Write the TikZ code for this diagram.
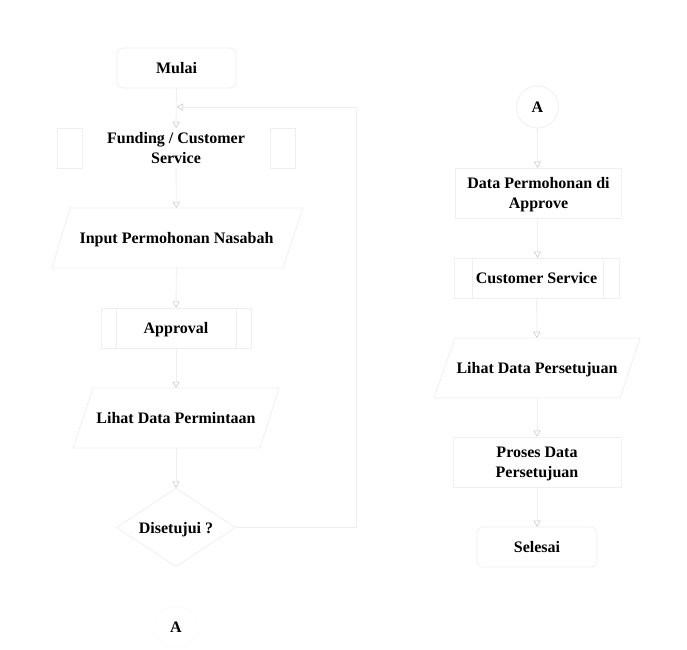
\documentclass[tikz,border=0pt]{standalone}
\usepackage{fontspec}
\setmainfont{Liberation Serif}
\usetikzlibrary{arrows.meta,shapes.geometric}
\definecolor{ln}{HTML}{EFEFEF}
\definecolor{tipc}{HTML}{C4C4C4}
\begin{document}
\begin{tikzpicture}[x=1pt,y=-1pt,
  every node/.style={font=\fontsize{16}{20}\selectfont\bfseries, align=center, inner sep=0pt, text depth=0pt},
  box/.style={draw=ln, line width=0.8pt, rectangle, minimum width=#1, minimum height=40},
  rbox/.style={draw=ln, line width=0.8pt, rectangle, rounded corners=6pt, minimum width=#1, minimum height=40},
  txt/.style={minimum width=#1, minimum height=60},
  shp/.style={draw=ln, line width=0.8pt},
  conn/.style={draw=ln, line width=0.9pt, -{Triangle[open,length=6,width=7,color=tipc,line width=0.5pt]}}]
\useasboundingbox (0,0) rectangle (687,649);
% left column
\node[rbox=119] (mulai) at (176.5,68) {Mulai};
\node[minimum width=213, minimum height=40] (fund) at (176,148) {Funding / Customer\\Service};
\draw[shp] (57,128) rectangle (82,168);
\draw[shp] (270,128) rectangle (295,168);
\node[txt=210] (input) at (176.5,238) {Input Permohonan Nasabah};
\draw[shp] (70,208) -- (303,208) -- (283,268) -- (52,268) -- cycle;
\node[box=150] (appr) at (176,328) {Approval};
\draw[shp] (116,308) -- (116,348) (236,308) -- (236,348);
\node[txt=186] (lihat1) at (176,418) {Lihat Data Permintaan};
\draw[shp] (93,388) -- (279,388) -- (260,448) -- (73,448) -- cycle;
\node[diamond, draw=ln, line width=0.8pt, minimum width=119, minimum height=79, aspect=1.5] (dis) at (176,527.5) {};
\node at (176,527.5) {Disetujui ?};
\node[circle, draw=white!98!black, line width=0.6pt, minimum size=42] (a1) at (176,627) {A};
% right column
\node[circle, draw=ln, line width=0.8pt, minimum size=42] (a2) at (537.5,107) {A};
\node[box=166, minimum height=50] (dpa) at (538.5,193) {Data Permohonan di\\Approve};
\node[box=165] (cs) at (536.5,278) {Customer Service};
\draw[shp] (472,258) -- (472,298) (603,258) -- (603,298);
\node[txt=186] (lihat2) at (537,368) {Lihat Data Persetujuan};
\draw[shp] (455,338) -- (640,338) -- (620,398) -- (434,398) -- cycle;
\node[box=168, minimum height=50] (proses) at (537,462) {Proses Data\\Persetujuan};
\node[rbox=120] (sel) at (537,547) {Selesai};
% connectors
\draw[conn] (mulai) -- (fund);
\draw[conn] (fund) -- (input);
\draw[conn] (input) -- (appr);
\draw[conn] (appr) -- (lihat1);
\draw[conn] (lihat1) -- (dis);
\coordinate (c1) at (356,527.5);
\coordinate (c2) at (356,107);
\coordinate (c3) at (177,107);
\draw[conn] (dis.east) -- (c1) -- (c2) -- (c3);
\draw[conn] (a2.south) -- (a2.south |- dpa.north);
\draw[conn] (a2.south |- dpa.south) -- (a2.south |- cs.north);
\draw[conn] (cs) -- (lihat2);
\draw[conn] (lihat2) -- (proses);
\draw[conn] (proses) -- (sel);
\end{tikzpicture}
\end{document}
